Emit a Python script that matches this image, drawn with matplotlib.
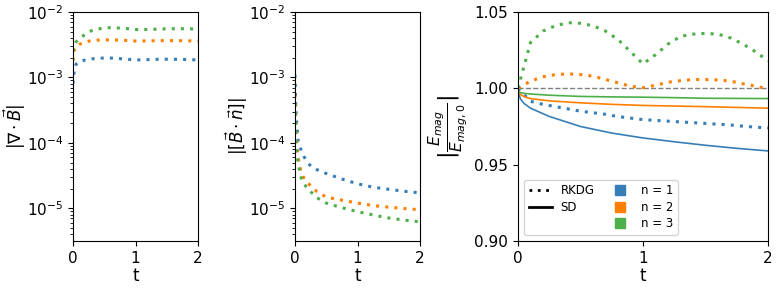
import matplotlib
matplotlib.use("Agg")
import matplotlib.pyplot as plt
from matplotlib.lines import Line2D
import numpy as np

plt.rcParams['font.size'] = 11
plt.rcParams['axes.labelsize'] = 12

colors = ['#377eb8', '#ff7f00', '#4daf4a']
labels_n = ['n = 1', 'n = 2', 'n = 3']
DOT = (0, (1, 2))

# Panel 1: |div B| (RKDG)
t1 = [0.0, 0.02, 0.05, 0.1, 0.2, 0.3, 0.4, 0.5, 0.6, 0.8, 1.0, 1.2, 1.4, 1.6, 1.8, 2.0]
divB = [
    [8.0e-4, 1.3e-3, 1.6e-3, 1.75e-3, 1.85e-3, 1.92e-3, 1.96e-3, 1.98e-3, 1.98e-3, 1.92e-3, 1.85e-3, 1.87e-3, 1.9e-3, 1.9e-3, 1.88e-3, 1.85e-3],
    [1.8e-3, 2.6e-3, 3.0e-3, 3.2e-3, 3.5e-3, 3.65e-3, 3.72e-3, 3.75e-3, 3.75e-3, 3.7e-3, 3.6e-3, 3.62e-3, 3.65e-3, 3.65e-3, 3.63e-3, 3.6e-3],
    [2.5e-3, 3.2e-3, 3.5e-3, 3.9e-3, 4.6e-3, 5.2e-3, 5.5e-3, 5.7e-3, 5.75e-3, 5.65e-3, 5.4e-3, 5.4e-3, 5.5e-3, 5.55e-3, 5.55e-3, 5.5e-3],
]

# Panel 2: |[B.n]| (RKDG)
t2 = [0.0, 0.01, 0.02, 0.05, 0.1, 0.15, 0.25, 0.35, 0.5, 0.75, 1.0, 1.25, 1.5, 1.75, 2.0]
jumpB = [
    [1.1e-3, 4.5e-4, 2.4e-4, 1.07e-4, 7.6e-5, 6.0e-5, 4.4e-5, 3.9e-5, 3.4e-5, 2.8e-5, 2.37e-5, 2.1e-5, 1.95e-5, 1.82e-5, 1.72e-5],
    [5.5e-4, 2.2e-4, 1.2e-4, 6.0e-5, 3.5e-5, 2.8e-5, 2.2e-5, 1.8e-5, 1.48e-5, 1.33e-5, 1.2e-5, 1.1e-5, 1.04e-5, 9.9e-6, 9.5e-6],
    [4.0e-4, 1.6e-4, 9.0e-5, 4.8e-5, 2.9e-5, 2.3e-5, 1.8e-5, 1.45e-5, 1.2e-5, 1.02e-5, 8.9e-6, 7.9e-6, 7.1e-6, 6.6e-6, 6.2e-6],
]

# Panel 3: E_mag / E_mag,0
t3 = [0.0, 0.1, 0.2, 0.3, 0.4, 0.5, 0.6, 0.7, 0.8, 0.9, 1.0, 1.1, 1.2, 1.3, 1.4, 1.5, 1.6, 1.7, 1.8, 1.9, 2.0]
emag_rkdg = [
    [1.0, 0.9915, 0.9895, 0.988, 0.9865, 0.985, 0.984, 0.983, 0.9815, 0.9805, 0.9795, 0.979, 0.9785, 0.978, 0.9775, 0.977, 0.9765, 0.976, 0.9752, 0.9746, 0.974],
    [1.0, 1.0047, 1.0076, 1.009, 1.0095, 1.009, 1.008, 1.0058, 1.0036, 1.0014, 1.0004, 1.002, 1.004, 1.005, 1.0058, 1.0058, 1.0055, 1.0047, 1.003, 1.0014, 0.9996],
    [1.0, 1.030, 1.0375, 1.041, 1.043, 1.0426, 1.041, 1.0375, 1.032, 1.024, 1.016, 1.022, 1.029, 1.034, 1.0355, 1.036, 1.0355, 1.033, 1.029, 1.024, 1.018],
]
t3s = [0.0, 0.02, 0.05, 0.1, 0.25, 0.5, 0.75, 1.0, 1.25, 1.5, 1.75, 2.0]
emag_sd = [
    [0.998, 0.993, 0.990, 0.987, 0.9816, 0.975, 0.9707, 0.9675, 0.965, 0.9627, 0.9607, 0.959],
    [0.998, 0.996, 0.9945, 0.9933, 0.9918, 0.9905, 0.9895, 0.9888, 0.9884, 0.988, 0.9875, 0.987],
    [0.998, 0.9972, 0.9967, 0.9963, 0.9955, 0.9947, 0.9944, 0.9942, 0.9939, 0.9935, 0.9934, 0.9933],
]

fig = plt.figure(figsize=(7.8, 2.88), dpi=100)
H = 288.0
W = 780.0
bottom = (H - 241) / H
height = 229 / H
ax1 = fig.add_axes([73 / W, bottom, 125 / W, height])
ax2 = fig.add_axes([295 / W, bottom, 125 / W, height])
ax3 = fig.add_axes([518 / W, bottom, 250 / W, height])

for i in range(3):
    ax1.plot(t1, divB[i], ls=DOT, color=colors[i], lw=2.2)
    ax2.plot(t2, jumpB[i], ls=DOT, color=colors[i], lw=2.2)

for ax in (ax1, ax2):
    ax.set_yscale('log')
    ax.set_ylim(10 ** -5.5, 1e-2)
    ax.set_xlim(0, 2)
    ax.set_xticks([0, 1, 2])
    ax.set_xlabel('t', labelpad=1)

ax1.set_ylabel(r'$|\nabla \cdot \vec{B}|$')
ax2.set_ylabel(r'$|[\vec{B} \cdot \vec{n}]|$')
ax1.yaxis.set_label_coords(-0.36, 0.5)
ax2.yaxis.set_label_coords(-0.36, 0.5)

ax3.axhline(1.0, color='gray', ls='--', lw=1)
for i in range(3):
    ax3.plot(t3, emag_rkdg[i], ls=DOT, color=colors[i], lw=2.2)
    ax3.plot(t3s, emag_sd[i], '-', color=colors[i], lw=1.2)
ax3.set_xlim(0, 2)
ax3.set_ylim(0.90, 1.05)
ax3.set_xticks([0, 1, 2])
ax3.set_yticks([0.90, 0.95, 1.00, 1.05])
ax3.set_xlabel('t', labelpad=1)
ax3.set_ylabel(r'$|\frac{E_{mag}}{E_{mag,0}}|$', fontsize=16, labelpad=3)

handles = [Line2D([], [], color='k', ls=DOT, lw=2),
           Line2D([], [], color='k', ls='-', lw=2),
           Line2D([], [], color='none'),
           Line2D([], [], color=colors[0], ls='', marker='s', markersize=7),
           Line2D([], [], color=colors[1], ls='', marker='s', markersize=7),
           Line2D([], [], color=colors[2], ls='', marker='s', markersize=7)]
labs = ['RKDG', 'SD', ''] + labels_n
ax3.legend(handles, labs, ncol=2, loc='lower left', fontsize=8.5,
           handlelength=2, columnspacing=1.2, labelspacing=0.3,
           handletextpad=0.7)

fig.savefig('out.png', dpi=100)
